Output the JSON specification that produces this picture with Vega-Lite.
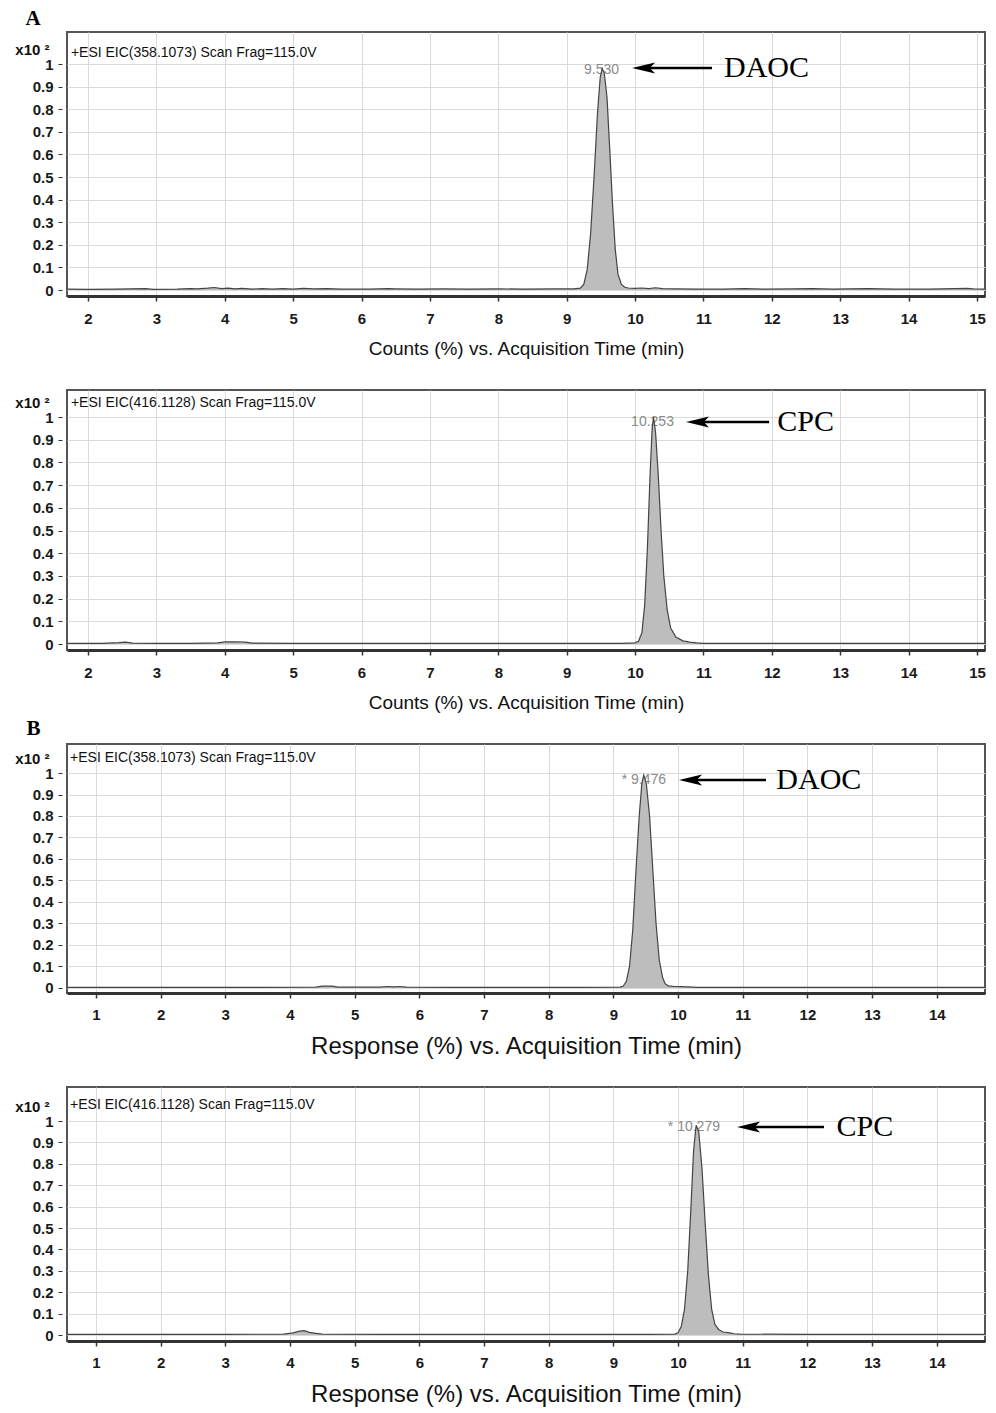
{
  "$schema": "https://vega.github.io/schema/vega-lite/v6.json",
  "background": "white",
  "padding": {"left": 13, "top": 7, "right": 5, "bottom": 5},
  "bounds": "flush",
  "spacing": 94,
  "config": {
    "font": "Liberation Sans",
    "view": {"stroke": "#555", "strokeWidth": 2},
    "axis": {"gridColor": "#dadada", "gridWidth": 1, "tickColor": "#333", "labelColor": "#1a1a1a", "labelFontWeight": "bold", "labelFontSize": 15, "titleColor": "#111", "labelFont": "Liberation Sans", "titleFont": "Liberation Sans"}
  },
  "datasets": {
    "a1": [
      {"t":1.693,"v":0.004},{"t":2.0,"v":0.003},{"t":2.4,"v":0.004},{"t":2.85,"v":0.006},{"t":2.95,"v":0.003},{"t":3.3,"v":0.004},{"t":3.5,"v":0.006},{"t":3.6,"v":0.005},{"t":3.75,"v":0.008},{"t":3.85,"v":0.011},{"t":3.95,"v":0.006},{"t":4.05,"v":0.008},{"t":4.15,"v":0.005},{"t":4.25,"v":0.007},{"t":4.4,"v":0.004},{"t":4.55,"v":0.006},{"t":4.7,"v":0.004},{"t":4.85,"v":0.006},{"t":5.0,"v":0.004},{"t":5.15,"v":0.007},{"t":5.3,"v":0.005},{"t":5.5,"v":0.006},{"t":5.7,"v":0.004},{"t":6.1,"v":0.004},{"t":6.4,"v":0.006},{"t":6.5,"v":0.005},{"t":6.8,"v":0.004},{"t":7.2,"v":0.005},{"t":7.6,"v":0.004},{"t":8.0,"v":0.005},{"t":8.4,"v":0.004},{"t":8.8,"v":0.005},{"t":9.1,"v":0.005},{"t":9.2,"v":0.008},{"t":9.25,"v":0.025},{"t":9.3,"v":0.09},{"t":9.35,"v":0.25},{"t":9.4,"v":0.5},{"t":9.45,"v":0.78},{"t":9.49,"v":0.94},{"t":9.52,"v":0.98},{"t":9.55,"v":0.96},{"t":9.59,"v":0.85},{"t":9.63,"v":0.62},{"t":9.67,"v":0.38},{"t":9.71,"v":0.18},{"t":9.75,"v":0.07},{"t":9.8,"v":0.025},{"t":9.85,"v":0.012},{"t":9.9,"v":0.009},{"t":10.0,"v":0.007},{"t":10.1,"v":0.009},{"t":10.2,"v":0.006},{"t":10.3,"v":0.01},{"t":10.4,"v":0.006},{"t":10.6,"v":0.005},{"t":10.9,"v":0.004},{"t":11.3,"v":0.004},{"t":11.6,"v":0.006},{"t":11.9,"v":0.004},{"t":12.3,"v":0.005},{"t":12.6,"v":0.006},{"t":12.9,"v":0.004},{"t":13.4,"v":0.006},{"t":13.8,"v":0.004},{"t":14.3,"v":0.004},{"t":14.85,"v":0.007},{"t":14.95,"v":0.005},{"t":15.117,"v":0.004}
    ],
    "a2": [
      {"t":1.693,"v":0.003},{"t":2.2,"v":0.003},{"t":2.45,"v":0.006},{"t":2.55,"v":0.008},{"t":2.65,"v":0.004},{"t":3.0,"v":0.003},{"t":3.5,"v":0.003},{"t":3.9,"v":0.005},{"t":4.0,"v":0.009},{"t":4.15,"v":0.01},{"t":4.3,"v":0.008},{"t":4.4,"v":0.004},{"t":5.0,"v":0.003},{"t":6.0,"v":0.003},{"t":7.0,"v":0.003},{"t":8.0,"v":0.003},{"t":9.0,"v":0.003},{"t":9.8,"v":0.003},{"t":10.0,"v":0.005},{"t":10.05,"v":0.012},{"t":10.1,"v":0.05},{"t":10.14,"v":0.17},{"t":10.18,"v":0.42},{"t":10.22,"v":0.75},{"t":10.25,"v":0.95},{"t":10.27,"v":1.0},{"t":10.3,"v":0.93},{"t":10.34,"v":0.74},{"t":10.38,"v":0.5},{"t":10.42,"v":0.3},{"t":10.47,"v":0.15},{"t":10.52,"v":0.07},{"t":10.6,"v":0.03},{"t":10.7,"v":0.014},{"t":10.8,"v":0.008},{"t":10.9,"v":0.005},{"t":11.0,"v":0.003},{"t":12.0,"v":0.003},{"t":13.0,"v":0.003},{"t":14.0,"v":0.003},{"t":15.117,"v":0.003}
    ],
    "b1": [
      {"t":0.553,"v":0.003},{"t":1.5,"v":0.003},{"t":2.5,"v":0.003},{"t":3.5,"v":0.003},{"t":4.4,"v":0.004},{"t":4.5,"v":0.009},{"t":4.65,"v":0.009},{"t":4.75,"v":0.004},{"t":5.4,"v":0.004},{"t":5.5,"v":0.007},{"t":5.6,"v":0.005},{"t":5.7,"v":0.007},{"t":5.8,"v":0.004},{"t":6.5,"v":0.003},{"t":7.5,"v":0.003},{"t":8.5,"v":0.003},{"t":9.1,"v":0.004},{"t":9.15,"v":0.008},{"t":9.2,"v":0.03},{"t":9.25,"v":0.1},{"t":9.3,"v":0.27},{"t":9.35,"v":0.55},{"t":9.4,"v":0.8},{"t":9.44,"v":0.95},{"t":9.47,"v":0.99},{"t":9.51,"v":0.95},{"t":9.56,"v":0.8},{"t":9.61,"v":0.55},{"t":9.66,"v":0.3},{"t":9.71,"v":0.13},{"t":9.76,"v":0.05},{"t":9.8,"v":0.02},{"t":9.85,"v":0.01},{"t":9.95,"v":0.007},{"t":10.05,"v":0.006},{"t":10.15,"v":0.005},{"t":10.3,"v":0.003},{"t":11.5,"v":0.003},{"t":12.5,"v":0.003},{"t":13.5,"v":0.003},{"t":14.746,"v":0.003}
    ],
    "b2": [
      {"t":0.553,"v":0.003},{"t":2.0,"v":0.003},{"t":3.0,"v":0.003},{"t":3.9,"v":0.004},{"t":4.05,"v":0.01},{"t":4.15,"v":0.018},{"t":4.22,"v":0.02},{"t":4.3,"v":0.012},{"t":4.4,"v":0.008},{"t":4.5,"v":0.004},{"t":5.5,"v":0.003},{"t":6.5,"v":0.003},{"t":7.5,"v":0.003},{"t":8.5,"v":0.003},{"t":9.5,"v":0.003},{"t":9.95,"v":0.004},{"t":10.0,"v":0.01},{"t":10.05,"v":0.04},{"t":10.1,"v":0.12},{"t":10.15,"v":0.3},{"t":10.2,"v":0.6},{"t":10.24,"v":0.86},{"t":10.28,"v":0.98},{"t":10.32,"v":0.95},{"t":10.37,"v":0.78},{"t":10.42,"v":0.52},{"t":10.47,"v":0.28},{"t":10.52,"v":0.12},{"t":10.57,"v":0.05},{"t":10.63,"v":0.025},{"t":10.7,"v":0.014},{"t":10.8,"v":0.01},{"t":10.87,"v":0.006},{"t":10.95,"v":0.004},{"t":12.0,"v":0.003},{"t":13.0,"v":0.003},{"t":14.746,"v":0.003}
    ],
    "hdr": [
      {"p":1,"t":1.75,"v":1.05,"label":"+ESI EIC(358.1073) Scan Frag=115.0V"},
      {"p":2,"t":1.75,"v":1.06,"label":"+ESI EIC(416.1128) Scan Frag=115.0V"},
      {"p":3,"t":0.6,"v":1.07,"label":"+ESI EIC(358.1073) Scan Frag=115.0V"},
      {"p":4,"t":0.6,"v":1.075,"label":"+ESI EIC(416.1128) Scan Frag=115.0V"}
    ],
    "pk": [
      {"p":1,"t":9.51,"v":0.973,"label":"9.530"},
      {"p":2,"t":10.255,"v":0.978,"label":"10.253"},
      {"p":3,"t":9.473,"v":0.967,"label":"* 9.476"},
      {"p":4,"t":10.245,"v":0.972,"label":"* 10.279"}
    ],
    "arr": [
      {"p":1,"t":10.17,"t2":11.125,"v":0.982},
      {"p":2,"t":10.96,"t2":11.96,"v":0.978},
      {"p":3,"t":10.247,"t2":11.36,"v":0.967},
      {"p":4,"t":11.144,"t2":12.257,"v":0.972}
    ],
    "head": [
      {"p":1,"t":10.124,"v":0.982},
      {"p":2,"t":10.913,"v":0.978},
      {"p":3,"t":10.193,"v":0.967},
      {"p":4,"t":11.09,"v":0.972}
    ],
    "nm": [
      {"p":1,"t":11.3,"v":0.982,"label":"DAOC"},
      {"p":2,"t":12.08,"v":0.978,"label":"CPC"},
      {"p":3,"t":11.52,"v":0.967,"label":"DAOC"},
      {"p":4,"t":12.45,"v":0.972,"label":"CPC"}
    ],
    "sec": [
      {"p":1,"t":1.196,"v":1.199,"label":"A"},
      {"p":3,"t":0.035,"v":1.205,"label":"B"}
    ]
  },
  "vconcat": [
    {
      "width": 918, "height": 264,
      "encoding": {
        "x": {"field": "t", "type": "quantitative", "scale": {"domain": [1.693, 15.117], "nice": false, "zero": false},
          "axis": {"values": [2,3,4,5,6,7,8,9,10,11,12,13,14,15], "format": "d", "grid": true, "domainColor": "#333", "domainWidth": 3, "tickSize": 5, "tickWidth": 1.5, "labelPadding": 10, "title": "Counts (%) vs. Acquisition Time (min)", "titleFontSize": 19, "titleFontWeight": "normal", "titlePadding": 13}},
        "y": {"field": "v", "type": "quantitative", "scale": {"domain": [-0.0265, 1.1416], "nice": false, "zero": false},
          "axis": {"values": [0,0.1,0.2,0.3,0.4,0.5,0.6,0.7,0.8,0.9,1], "format": "~g", "grid": true, "domain": false, "offset": 5, "tickSize": 4, "labelPadding": 5, "title": "x10 ²", "titleAngle": 0, "titleAlign": "right", "titleBaseline": "middle", "titleX": -13, "titleY": 17, "titleFontSize": 15, "titleFontWeight": "bold"}}
      },
      "layer": [
        {"data": {"name": "pk"}, "transform": [{"filter": "datum.p === 1"}], "mark": {"type": "text", "align": "center", "baseline": "middle", "fontSize": 14, "color": "#8a8a8a"}, "encoding": {"text": {"field": "label"}}},
        {"data": {"name": "a1"}, "mark": {"type": "area", "color": "#bdbdbd"}, "encoding": {}},
        {"data": {"name": "a1"}, "mark": {"type": "line", "color": "#444", "strokeWidth": 1.2}, "encoding": {}},
        {"data": {"name": "hdr"}, "transform": [{"filter": "datum.p === 1"}], "mark": {"type": "text", "align": "left", "baseline": "middle", "fontSize": 14, "color": "#111"}, "encoding": {"text": {"field": "label"}}},
        {"data": {"name": "arr"}, "transform": [{"filter": "datum.p === 1"}], "mark": {"type": "rule", "color": "#000", "strokeWidth": 2.5}, "encoding": {"x2": {"field": "t2"}}},
        {"data": {"name": "head"}, "transform": [{"filter": "datum.p === 1"}], "mark": {"type": "point", "shape": "M-1,0L1,-0.48L0.55,0L1,0.48Z", "filled": true, "color": "#000", "size": 529, "opacity": 1}, "encoding": {}},
        {"data": {"name": "nm"}, "transform": [{"filter": "datum.p === 1"}], "mark": {"type": "text", "align": "left", "baseline": "middle", "font": "Liberation Serif", "fontSize": 30, "color": "#000"}, "encoding": {"text": {"field": "label"}}},
        {"data": {"name": "sec"}, "transform": [{"filter": "datum.p === 1"}], "mark": {"type": "text", "align": "center", "baseline": "middle", "font": "Liberation Serif", "fontWeight": "bold", "fontSize": 21, "color": "#000"}, "encoding": {"text": {"field": "label"}}}
      ]
    },
    {
      "width": 918, "height": 260,
      "encoding": {
        "x": {"field": "t", "type": "quantitative", "scale": {"domain": [1.693, 15.117], "nice": false, "zero": false},
          "axis": {"values": [2,3,4,5,6,7,8,9,10,11,12,13,14,15], "format": "d", "grid": true, "domainColor": "#333", "domainWidth": 3, "tickSize": 5, "tickWidth": 1.5, "labelPadding": 10, "title": "Counts (%) vs. Acquisition Time (min)", "titleFontSize": 19, "titleFontWeight": "normal", "titlePadding": 13}},
        "y": {"field": "v", "type": "quantitative", "scale": {"domain": [-0.0264, 1.119], "nice": false, "zero": false},
          "axis": {"values": [0,0.1,0.2,0.3,0.4,0.5,0.6,0.7,0.8,0.9,1], "format": "~g", "grid": true, "domain": false, "offset": 5, "tickSize": 4, "labelPadding": 5, "title": "x10 ²", "titleAngle": 0, "titleAlign": "right", "titleBaseline": "middle", "titleX": -13, "titleY": 12, "titleFontSize": 15, "titleFontWeight": "bold"}}
      },
      "layer": [
        {"data": {"name": "pk"}, "transform": [{"filter": "datum.p === 2"}], "mark": {"type": "text", "align": "center", "baseline": "middle", "fontSize": 14, "color": "#8a8a8a"}, "encoding": {"text": {"field": "label"}}},
        {"data": {"name": "a2"}, "mark": {"type": "area", "color": "#bdbdbd"}, "encoding": {}},
        {"data": {"name": "a2"}, "mark": {"type": "line", "color": "#444", "strokeWidth": 1.2}, "encoding": {}},
        {"data": {"name": "hdr"}, "transform": [{"filter": "datum.p === 2"}], "mark": {"type": "text", "align": "left", "baseline": "middle", "fontSize": 14, "color": "#111"}, "encoding": {"text": {"field": "label"}}},
        {"data": {"name": "arr"}, "transform": [{"filter": "datum.p === 2"}], "mark": {"type": "rule", "color": "#000", "strokeWidth": 2.5}, "encoding": {"x2": {"field": "t2"}}},
        {"data": {"name": "head"}, "transform": [{"filter": "datum.p === 2"}], "mark": {"type": "point", "shape": "M-1,0L1,-0.48L0.55,0L1,0.48Z", "filled": true, "color": "#000", "size": 529, "opacity": 1}, "encoding": {}},
        {"data": {"name": "nm"}, "transform": [{"filter": "datum.p === 2"}], "mark": {"type": "text", "align": "left", "baseline": "middle", "font": "Liberation Serif", "fontSize": 30, "color": "#000"}, "encoding": {"text": {"field": "label"}}}
      ]
    },
    {
      "width": 918, "height": 249,
      "encoding": {
        "x": {"field": "t", "type": "quantitative", "scale": {"domain": [0.553, 14.746], "nice": false, "zero": false},
          "axis": {"values": [1,2,3,4,5,6,7,8,9,10,11,12,13,14], "format": "d", "grid": true, "domainColor": "#333", "domainWidth": 3, "tickSize": 5, "tickWidth": 1.5, "labelPadding": 9, "title": "Response (%) vs. Acquisition Time (min)", "titleFontSize": 24, "titleFontWeight": "normal", "titlePadding": 12}},
        "y": {"field": "v", "type": "quantitative", "scale": {"domain": [-0.0233, 1.1349], "nice": false, "zero": false},
          "axis": {"values": [0,0.1,0.2,0.3,0.4,0.5,0.6,0.7,0.8,0.9,1], "format": "~g", "grid": true, "domain": false, "offset": 5, "tickSize": 4, "labelPadding": 5, "title": "x10 ²", "titleAngle": 0, "titleAlign": "right", "titleBaseline": "middle", "titleX": -13, "titleY": 14, "titleFontSize": 15, "titleFontWeight": "bold"}}
      },
      "layer": [
        {"data": {"name": "pk"}, "transform": [{"filter": "datum.p === 3"}], "mark": {"type": "text", "align": "center", "baseline": "middle", "fontSize": 14, "color": "#8a8a8a"}, "encoding": {"text": {"field": "label"}}},
        {"data": {"name": "b1"}, "mark": {"type": "area", "color": "#bdbdbd"}, "encoding": {}},
        {"data": {"name": "b1"}, "mark": {"type": "line", "color": "#444", "strokeWidth": 1.2}, "encoding": {}},
        {"data": {"name": "hdr"}, "transform": [{"filter": "datum.p === 3"}], "mark": {"type": "text", "align": "left", "baseline": "middle", "fontSize": 14, "color": "#111"}, "encoding": {"text": {"field": "label"}}},
        {"data": {"name": "arr"}, "transform": [{"filter": "datum.p === 3"}], "mark": {"type": "rule", "color": "#000", "strokeWidth": 2.5}, "encoding": {"x2": {"field": "t2"}}},
        {"data": {"name": "head"}, "transform": [{"filter": "datum.p === 3"}], "mark": {"type": "point", "shape": "M-1,0L1,-0.48L0.55,0L1,0.48Z", "filled": true, "color": "#000", "size": 529, "opacity": 1}, "encoding": {}},
        {"data": {"name": "nm"}, "transform": [{"filter": "datum.p === 3"}], "mark": {"type": "text", "align": "left", "baseline": "middle", "font": "Liberation Serif", "fontSize": 30, "color": "#000"}, "encoding": {"text": {"field": "label"}}},
        {"data": {"name": "sec"}, "transform": [{"filter": "datum.p === 3"}], "mark": {"type": "text", "align": "center", "baseline": "middle", "font": "Liberation Serif", "fontWeight": "bold", "fontSize": 21, "color": "#000"}, "encoding": {"text": {"field": "label"}}}
      ]
    },
    {
      "width": 918, "height": 254,
      "encoding": {
        "x": {"field": "t", "type": "quantitative", "scale": {"domain": [0.553, 14.746], "nice": false, "zero": false},
          "axis": {"values": [1,2,3,4,5,6,7,8,9,10,11,12,13,14], "format": "d", "grid": true, "domainColor": "#333", "domainWidth": 3, "tickSize": 5, "tickWidth": 1.5, "labelPadding": 9, "title": "Response (%) vs. Acquisition Time (min)", "titleFontSize": 24, "titleFontWeight": "normal", "titlePadding": 12}},
        "y": {"field": "v", "type": "quantitative", "scale": {"domain": [-0.028, 1.1589], "nice": false, "zero": false},
          "axis": {"values": [0,0.1,0.2,0.3,0.4,0.5,0.6,0.7,0.8,0.9,1], "format": "~g", "grid": true, "domain": false, "offset": 5, "tickSize": 4, "labelPadding": 5, "title": "x10 ²", "titleAngle": 0, "titleAlign": "right", "titleBaseline": "middle", "titleX": -13, "titleY": 19, "titleFontSize": 15, "titleFontWeight": "bold"}}
      },
      "layer": [
        {"data": {"name": "pk"}, "transform": [{"filter": "datum.p === 4"}], "mark": {"type": "text", "align": "center", "baseline": "middle", "fontSize": 14, "color": "#8a8a8a"}, "encoding": {"text": {"field": "label"}}},
        {"data": {"name": "b2"}, "mark": {"type": "area", "color": "#bdbdbd"}, "encoding": {}},
        {"data": {"name": "b2"}, "mark": {"type": "line", "color": "#444", "strokeWidth": 1.2}, "encoding": {}},
        {"data": {"name": "hdr"}, "transform": [{"filter": "datum.p === 4"}], "mark": {"type": "text", "align": "left", "baseline": "middle", "fontSize": 14, "color": "#111"}, "encoding": {"text": {"field": "label"}}},
        {"data": {"name": "arr"}, "transform": [{"filter": "datum.p === 4"}], "mark": {"type": "rule", "color": "#000", "strokeWidth": 2.5}, "encoding": {"x2": {"field": "t2"}}},
        {"data": {"name": "head"}, "transform": [{"filter": "datum.p === 4"}], "mark": {"type": "point", "shape": "M-1,0L1,-0.48L0.55,0L1,0.48Z", "filled": true, "color": "#000", "size": 529, "opacity": 1}, "encoding": {}},
        {"data": {"name": "nm"}, "transform": [{"filter": "datum.p === 4"}], "mark": {"type": "text", "align": "left", "baseline": "middle", "font": "Liberation Serif", "fontSize": 30, "color": "#000"}, "encoding": {"text": {"field": "label"}}}
      ]
    }
  ]
}
